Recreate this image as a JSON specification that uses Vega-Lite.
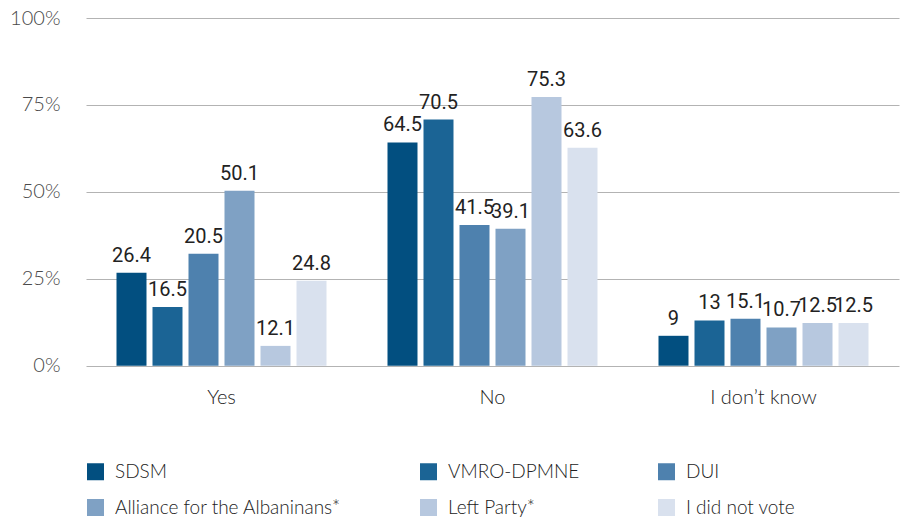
{
  "$schema": "https://vega.github.io/schema/vega-lite/v6.json",
  "width": 838,
  "height": 347.7,
  "autosize": "none",
  "padding": {"left": 70, "top": 18, "right": 0, "bottom": 154.3},
  "background": "white",
  "config": {"view": {"stroke": null}, "font": "Lato"},
  "data": {
    "values": [
      {"answer": "Yes", "party": "SDSM", "value": 26.7, "label": "26.4"},
      {"answer": "Yes", "party": "VMRO-DPMNE", "value": 16.9, "label": "16.5"},
      {"answer": "Yes", "party": "DUI", "value": 32.2, "label": "20.5"},
      {"answer": "Yes", "party": "Alliance for the Albaninans*", "value": 50.3, "label": "50.1"},
      {"answer": "Yes", "party": "Left Party*", "value": 5.7, "label": "12.1"},
      {"answer": "Yes", "party": "I did not vote", "value": 24.4, "label": "24.8"},
      {"answer": "No", "party": "SDSM", "value": 64.2, "label": "64.5"},
      {"answer": "No", "party": "VMRO-DPMNE", "value": 70.8, "label": "70.5"},
      {"answer": "No", "party": "DUI", "value": 40.5, "label": "41.5"},
      {"answer": "No", "party": "Alliance for the Albaninans*", "value": 39.4, "label": "39.1"},
      {"answer": "No", "party": "Left Party*", "value": 77.3, "label": "75.3"},
      {"answer": "No", "party": "I did not vote", "value": 62.7, "label": "63.6"},
      {"answer": "I don’t know", "party": "SDSM", "value": 8.6, "label": "9"},
      {"answer": "I don’t know", "party": "VMRO-DPMNE", "value": 13.0, "label": "13"},
      {"answer": "I don’t know", "party": "DUI", "value": 13.5, "label": "15.1"},
      {"answer": "I don’t know", "party": "Alliance for the Albaninans*", "value": 11.0, "label": "10.7"},
      {"answer": "I don’t know", "party": "Left Party*", "value": 12.3, "label": "12.5"},
      {"answer": "I don’t know", "party": "I did not vote", "value": 12.3, "label": "12.5"}
    ]
  },
  "encoding": {
    "x": {
      "field": "answer",
      "type": "nominal",
      "sort": ["Yes", "No", "I don’t know"],
      "scale": {"range": [16, 829], "paddingInner": 0, "paddingOuter": 0},
      "axis": {
        "title": null,
        "domain": false,
        "ticks": false,
        "labelAngle": 0,
        "labelPadding": 22,
        "labelFontSize": 20,
        "labelFontWeight": 300,
        "labelColor": "#222222",
        "labelFont": "Lato"
      }
    },
    "xOffset": {
      "field": "party",
      "type": "nominal",
      "sort": ["SDSM", "VMRO-DPMNE", "DUI", "Alliance for the Albaninans*", "Left Party*", "I did not vote"],
      "scale": {"paddingInner": 0.1667, "paddingOuter": 0.847}
    },
    "y": {
      "field": "value",
      "type": "quantitative",
      "scale": {"domain": [0, 100], "nice": false},
      "axis": {
        "title": null,
        "values": [0, 25, 50, 75, 100],
        "labelExpr": "datum.value + '%'",
        "grid": true,
        "gridColor": "#b3b3b3",
        "gridWidth": 1,
        "domain": false,
        "ticks": false,
        "labelPadding": 10,
        "labelFontSize": 20,
        "labelFontWeight": 300,
        "labelColor": "#4a4a4a",
        "labelFont": "Lato"
      }
    }
  },
  "layer": [
    {
      "mark": {"type": "bar"},
      "encoding": {
        "color": {
          "field": "party",
          "type": "nominal",
          "scale": {
            "domain": ["SDSM", "VMRO-DPMNE", "DUI", "Alliance for the Albaninans*", "Left Party*", "I did not vote"],
            "range": ["#024f80", "#1b6495", "#4e81ae", "#7fa1c4", "#b7c8df", "#d9e1ee"]
          },
          "legend": {
            "title": null,
            "orient": "none",
            "legendX": 16,
            "legendY": 444,
            "direction": "horizontal",
            "columns": 3,
            "columnPadding": 77,
            "rowPadding": 16,
            "padding": 0,
            "symbolType": "square",
            "symbolSize": 289,
            "symbolStrokeWidth": 0,
            "symbolOpacity": 1,
            "labelOffset": 10,
            "labelFontSize": 19,
            "labelFontWeight": 300,
            "labelFont": "Lato",
            "labelColor": "#222222",
            "labelLimit": 400
          }
        }
      }
    },
    {
      "mark": {
        "type": "text",
        "baseline": "alphabetic",
        "dy": -11,
        "font": "Roboto",
        "fontSize": 20,
        "fontWeight": "normal",
        "color": "#222222"
      },
      "encoding": {"text": {"field": "label"}}
    }
  ]
}
